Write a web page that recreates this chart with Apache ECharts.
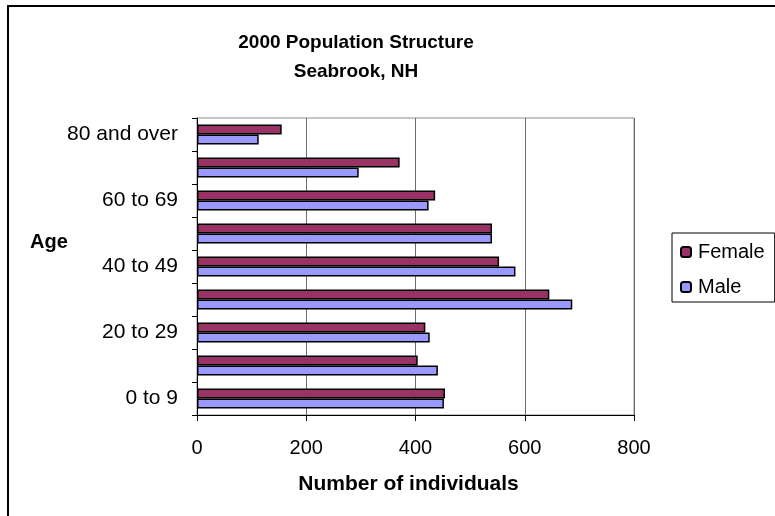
<!DOCTYPE html>
<html>
<head>
<meta charset="utf-8">
<script src="https://cdn.jsdelivr.net/npm/echarts@6/dist/echarts.min.js"></script>
<style>
  html, body { margin: 0; padding: 0; background: #fff; }
  #chart { width: 775px; height: 516px; }
</style>
</head>
<body>
<div id="chart"></div>
<script>
// Age groups, bottom to top
const ageGroups = ['0 to 9', '10 to 19', '20 to 29', '30 to 39', '40 to 49',
                   '50 to 59', '60 to 69', '70 to 79', '80 and over'];
// Residents per age group
const female = [454, 404, 418, 645, 553, 540, 436, 371, 155];
const male   = [452, 441, 426, 687, 583, 540, 424, 296, 113];
// Value axis ticks
const xTicks = [0, 200, 400, 600, 800];

const FONT = '"Liberation Sans", Arial, sans-serif';
const chart = echarts.init(document.getElementById('chart'), null, { renderer: 'canvas' });

chart.setOption({
  backgroundColor: '#fff',
  animation: false,
  textStyle: { fontFamily: FONT, color: '#000' },
  title: {
    text: '2000 Population Structure\nSeabrook, NH',
    left: 351, top: 23, textAlign: 'center',
    textStyle: { fontFamily: FONT, fontSize: 19, fontWeight: 'bold', color: '#000', lineHeight: 29 }
  },
  legend: {
    data: ['Female', 'Male'],
    orient: 'vertical',
    left: 672, top: 233,
    padding: [9, 10, 5, 8],
    itemWidth: 10, itemHeight: 10, itemGap: 15,
    borderColor: '#000', borderWidth: 1,
    textStyle: { fontFamily: FONT, fontSize: 20, lineHeight: 20, color: '#000', padding: [0, 0, 0, 2] }
  },
  grid: {
    left: 197, right: 141, top: 118, bottom: 101,
    show: true, borderColor: '#8c8c8c', borderWidth: 1, backgroundColor: '#fff'
  },
  xAxis: {
    type: 'value',
    min: xTicks[0], max: xTicks[xTicks.length - 1], interval: 200,
    name: 'Number of individuals',
    nameLocation: 'middle', nameGap: 59,
    nameTextStyle: { fontFamily: FONT, fontSize: 21, fontWeight: 'bold', color: '#000', padding: [0, 14, 0, 0] },
    axisLine: { show: true, lineStyle: { color: '#000', width: 1 } },
    axisTick: { show: true, length: 6, inside: false, lineStyle: { color: '#000' } },
    axisLabel: { fontFamily: FONT, fontSize: 20, color: '#000', margin: 23 },
    splitLine: { show: true, lineStyle: { color: '#6e6e6e', width: 1 } }
  },
  yAxis: {
    type: 'category',
    data: ageGroups,
    axisLine: { show: true, lineStyle: { color: '#000', width: 1 } },
    axisTick: { show: true, length: 5, interval: 0, alignWithLabel: false, lineStyle: { color: '#000' } },
    axisLabel: { interval: 1, fontFamily: FONT, fontSize: 21, color: '#000', margin: 19 },
    splitLine: { show: false }
  },
  series: [
    {
      name: 'Female', type: 'bar', data: female,
      barWidth: 10, barGap: '0%',
      itemStyle: { color: '#993366', borderColor: '#000', borderWidth: 1.5 }
    },
    {
      name: 'Male', type: 'bar', data: male,
      barWidth: 10, barGap: '0%',
      itemStyle: { color: '#9999FF', borderColor: '#000', borderWidth: 1.5 }
    }
  ],
  graphic: [
    {
      type: 'polyline', silent: true,
      shape: { points: [[8, 520], [8, 6], [780, 6]] },
      style: { stroke: '#000', lineWidth: 2, fill: null }
    },
    {
      type: 'text', silent: true, left: 30, top: 232,
      style: { text: 'Age', fontFamily: FONT, fontSize: 20, fontWeight: 'bold', fill: '#000' }
    }
  ]
});
</script>
</body>
</html>
